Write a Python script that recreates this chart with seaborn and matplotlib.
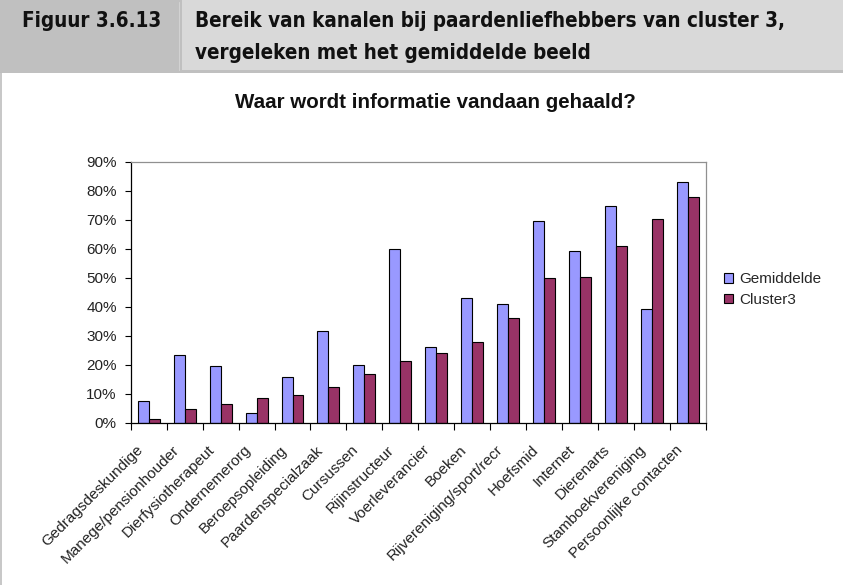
import matplotlib
matplotlib.use("Agg")
import matplotlib.pyplot as plt
from matplotlib.patches import Rectangle, Patch
from matplotlib.lines import Line2D
from matplotlib.transforms import ScaledTranslation
import seaborn as sns
import pandas as pd
import numpy as np

categories = [
    "Gedragsdeskundige", "Manege/pensionhouder", "Dierfysiotherapeut",
    "Ondernemerorg", "Beroepsopleiding", "Paardenspecialzaak", "Cursussen",
    "Rijinstructeur", "Voerleverancier", "Boeken", "Rijvereniging/sport/recr",
    "Hoefsmid", "Internet", "Dierenarts", "Stamboekvereniging",
    "Persoonlijke contacten",
]
gemiddelde = [7.6, 23.4, 19.7, 3.4, 15.9, 31.7, 20.0, 59.8, 26.0, 43.0,
              40.9, 69.7, 59.3, 74.6, 39.2, 83.0]
cluster3 = [1.4, 4.7, 6.3, 8.4, 9.7, 12.2, 16.7, 21.3, 23.9, 27.7,
            36.0, 49.8, 50.1, 60.9, 70.1, 78.0]
series_names = ["Gemiddelde", "Cluster3"]
y_ticks = [0, 10, 20, 30, 40, 50, 60, 70, 80, 90]

chart_title = "Waar wordt informatie vandaan gehaald?"
fig_label = "Figuur 3.6.13"
fig_heading = ["Bereik van kanalen bij paardenliefhebbers van cluster 3,",
               "vergeleken met het gemiddelde beeld"]

colors = ["#9999FF", "#993366"]

df = pd.DataFrame({
    "kanaal": categories * 2,
    "reeks": [series_names[0]] * len(categories) + [series_names[1]] * len(categories),
    "waarde": gemiddelde + cluster3,
})

sns.set_style("white")
plt.rcParams["font.family"] = ["Liberation Sans", "DejaVu Sans"]

W, H = 843, 585
fig = plt.figure(figsize=(W / 100, H / 100), dpi=100)
fig.patch.set_facecolor("white")

def fx(px):
    return px / W

def fy(py):
    return 1 - py / H

# header band
fig.patches.append(Rectangle((0, fy(73)), 1, 73 / H, transform=fig.transFigure,
                             facecolor="#C0C0C0", edgecolor="none", zorder=0))
fig.patches.append(Rectangle((fx(182), fy(70)), 1 - fx(182), 70 / H,
                             transform=fig.transFigure, facecolor="#D9D9D9",
                             edgecolor="none", zorder=1))
fig.add_artist(Line2D([fx(178.5), fx(178.5)], [fy(70), fy(2)],
                      transform=fig.transFigure, color="#D2D2D2", lw=0.8))
# left border of chart area
fig.add_artist(Line2D([fx(1), fx(1)], [fy(73), 0], transform=fig.transFigure,
                      color="#BDBDBD", lw=1.2))

head_kw = dict(fontsize=14.8, fontweight="bold", family=["DejaVu Sans"],
               stretch="condensed", ha="left", va="center", color="#111111")
fig.text(fx(22), fy(21), fig_label, **head_kw)
fig.text(fx(195), fy(21), fig_heading[0], **head_kw)
fig.text(fx(195), fy(53), fig_heading[1], **head_kw)

# plot area
left, right, top, bottom = 130.7, 706, 161.7, 422.7
ax = fig.add_axes([fx(left), fy(bottom), fx(right) - fx(left), (bottom - top) / H])

sns.barplot(data=df, x="kanaal", y="waarde", hue="reeks", palette=colors,
            width=0.61, edgecolor="black", linewidth=0.8, saturation=1,
            ax=ax, legend=False)

ax.set_xlim(-0.5, len(categories) - 0.5)
ax.set_ylim(0, 90)
ax.set_yticks(y_ticks)
ax.set_yticklabels([f"{t}%" for t in y_ticks], fontsize=11, color="#222222")
ax.tick_params(axis="y", length=4, width=0.8, color="black", direction="out",
               left=True, pad=6)
ax.set_xticks(np.arange(-0.5, len(categories), 1.0), minor=True)
ax.tick_params(axis="x", which="minor", length=5, width=0.8, color="black",
               direction="out", bottom=True)
ax.set_xticks(range(len(categories)))
ax.tick_params(axis="x", which="major", length=0, pad=18)
ax.set_xticklabels(categories, rotation=45, ha="right", va="center",
                   rotation_mode="anchor", fontsize=11, color="#222222")
# nudge the category labels a little to the left of their slots
shift = ScaledTranslation(-8 / 100, 0, fig.dpi_scale_trans)
for lab in ax.get_xticklabels():
    lab.set_transform(lab.get_transform() + shift)
ax.set_xlabel("")
ax.set_ylabel("")

for side in ["left", "bottom"]:
    ax.spines[side].set_color("black")
    ax.spines[side].set_linewidth(0.9)
for side in ["top", "right"]:
    ax.spines[side].set_visible(True)
    ax.spines[side].set_color("#909090")
    ax.spines[side].set_linewidth(0.9)

fig.text(fx(435), fy(103), chart_title, fontsize=14.8, fontweight="bold",
         ha="center", va="center", color="#111111")

handles = [Patch(facecolor=c, edgecolor="black", linewidth=0.8) for c in colors]
fig.legend(handles, series_names, loc="upper left",
           bbox_to_anchor=(fx(718), fy(266)), frameon=False, fontsize=11,
           handlelength=0.6, handleheight=0.6, handletextpad=0.4,
           labelspacing=0.45, borderaxespad=0)

fig.savefig("out.png", dpi=100)
